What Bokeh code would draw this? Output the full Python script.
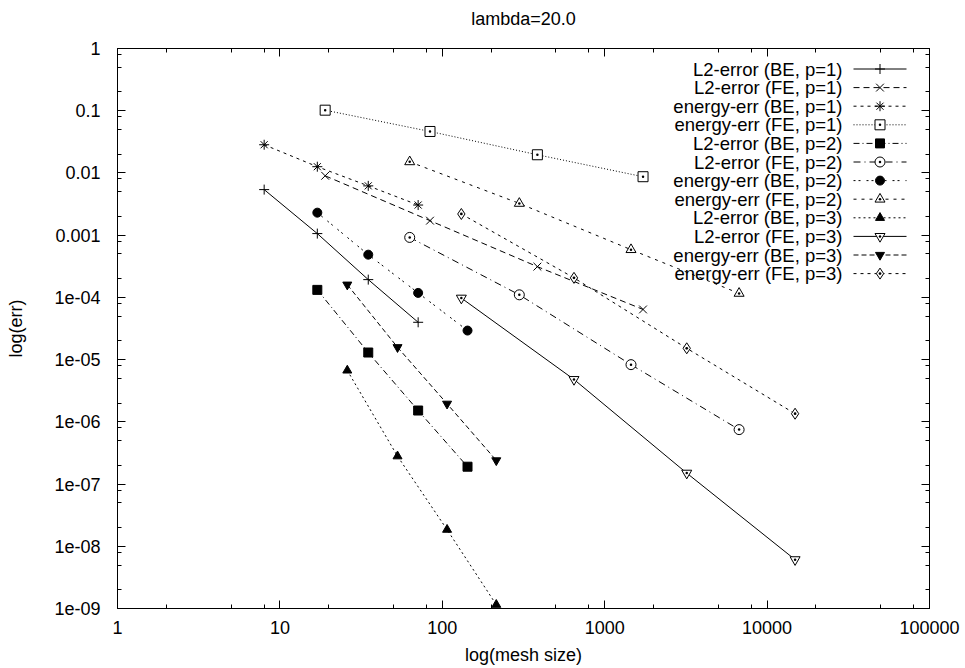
from bokeh.plotting import figure
from bokeh.models import (Range1d, LinearScale, LogAxis, FixedTicker,
                          CustomJSTickFormatter)
from bokeh.core.properties import value
from bokeh.embed import file_html
from bokeh.resources import INLINE

# ---------------- data ----------------
MESH_BE_P1 = [8, 17, 35, 71]
MESH_FE_P1 = [19, 84, 385, 1722]
MESH_BE_P2 = [17, 35, 71, 143]
MESH_FE_P2 = [63, 298, 1452, 6724]
MESH_BE_P3 = [26, 53, 107, 215]
MESH_FE_P3 = [131, 647, 3200, 14870]

L2_BE_P1 = [5.4e-3, 1.06e-3, 1.93e-4, 3.98e-5]
L2_FE_P1 = [9.0e-3, 1.71e-3, 3.12e-4, 6.4e-5]
EN_BE_P1 = [2.84e-2, 1.26e-2, 6.2e-3, 3.05e-3]
EN_FE_P1 = [0.102, 4.64e-2, 1.96e-2, 8.7e-3]
L2_BE_P2 = [1.32e-4, 1.30e-5, 1.52e-6, 1.90e-7]
L2_FE_P2 = [9.2e-4, 1.10e-4, 8.3e-6, 7.5e-7]
EN_BE_P2 = [2.30e-3, 4.86e-4, 1.18e-4, 2.93e-5]
EN_FE_P2 = [1.51e-2, 3.24e-3, 5.85e-4, 1.16e-4]
L2_BE_P3 = [6.7e-6, 2.8e-7, 1.85e-8, 1.15e-9]
L2_FE_P3 = [9.75e-5, 4.8e-6, 1.5e-7, 6.1e-9]
EN_BE_P3 = [1.6e-4, 1.58e-5, 1.95e-6, 2.4e-7]
EN_FE_P3 = [2.19e-3, 2.06e-4, 1.52e-5, 1.35e-6]

SERIES_NAMES = [
    "L2-error (BE, p=1)", "L2-error (FE, p=1)",
    "energy-err (BE, p=1)", "energy-err (FE, p=1)",
    "L2-error (BE, p=2)", "L2-error (FE, p=2)",
    "energy-err (BE, p=2)", "energy-err (FE, p=2)",
    "L2-error (BE, p=3)", "L2-error (FE, p=3)",
    "energy-err (BE, p=3)", "energy-err (FE, p=3)",
]

X_TICKS = [1, 10, 100, 1000, 10000, 100000]
X_TICK_LABELS = ["1", "10", "100", "1000", "10000", "100000"]
Y_TICKS = [1e-9, 1e-8, 1e-7, 1e-6, 1e-5, 1e-4, 1e-3, 1e-2, 1e-1, 1]
Y_TICK_LABELS = ["1e-09", "1e-08", "1e-07", "1e-06", "1e-05", "1e-04",
                 "0.001", "0.01", "0.1", "1"]
MINOR_MULT = [2, 5, 8]

TITLE = "lambda=20.0"
X_LABEL = "log(mesh size)"
Y_LABEL = "log(err)"

# ---------------- styles ----------------
FONT = "Liberation Sans"
FS = "18px"
LEG_FS = "18.5px"
# (marker, size, filled, dot, dash)
STYLES = [
    ("cross", 10, True, False, "solid"),
    ("x", 11, True, False, "6 4"),
    ("asterisk", 10, True, False, "3 4"),
    ("square_dot", 10, False, False, "1 2"),
    ("square", 9, True, False, "6 3 1 3"),
    ("circle_dot", 10, False, False, "7 4 1 4"),
    ("circle", 9, True, False, "2 3 2 6"),
    ("triangle_dot", 10, False, False, "3 5"),
    ("triangle", 9, True, False, "2 3"),
    ("inverted_triangle", 10, False, True, "solid"),
    ("inverted_triangle", 9, True, False, "5 3"),
    ("diamond_dot", 11, False, False, "3 4"),
]
XS = [MESH_BE_P1, MESH_FE_P1, MESH_BE_P1, MESH_FE_P1,
      MESH_BE_P2, MESH_FE_P2, MESH_BE_P2, MESH_FE_P2,
      MESH_BE_P3, MESH_FE_P3, MESH_BE_P3, MESH_FE_P3]
YS = [L2_BE_P1, L2_FE_P1, EN_BE_P1, EN_FE_P1,
      L2_BE_P2, L2_FE_P2, EN_BE_P2, EN_FE_P2,
      L2_BE_P3, L2_FE_P3, EN_BE_P3, EN_FE_P3]

W, H = 965, 668
ML, MR, MT, MB = 117, 36, 48, 60
FW, FH = W - ML - MR, H - MT - MB

p = figure(width=W, height=H, x_axis_type="log", y_axis_type="log",
           x_range=Range1d(1, 1e5), y_range=Range1d(1e-9, 1),
           output_backend="svg", toolbar_location=None,
           min_border_left=ML, min_border_right=MR,
           min_border_top=MT, min_border_bottom=MB,
           background_fill_color="white", border_fill_color="white")
p.xgrid.visible = False
p.ygrid.visible = False
p.outline_line_color = "black"
p.outline_line_width = 1


def make_ticker(majors, lo, hi):
    minors = [m * 10 ** k for k in range(lo, hi) for m in MINOR_MULT]
    return FixedTicker(ticks=majors, minor_ticks=minors)


xt = make_ticker(X_TICKS, 0, 5)
yt = make_ticker(Y_TICKS, -9, 0)

fmt_code = """
let best = 0, bd = Infinity;
for (let i = 0; i < tv.length; i++) {
  const d = Math.abs(Math.log10(tv[i]) - Math.log10(tick));
  if (d < bd) { bd = d; best = i; }
}
return labs[best];
"""
xfmt = CustomJSTickFormatter(args=dict(tv=X_TICKS, labs=X_TICK_LABELS), code=fmt_code)
yfmt = CustomJSTickFormatter(args=dict(tv=Y_TICKS, labs=Y_TICK_LABELS), code=fmt_code)
empty_fmt = CustomJSTickFormatter(code="return '';")


def style_axis(ax):
    ax.axis_line_color = "black"
    ax.axis_line_width = 1
    ax.major_tick_in = 8
    ax.major_tick_out = 0
    ax.minor_tick_in = 4
    ax.minor_tick_out = 0
    ax.major_tick_line_color = "black"
    ax.minor_tick_line_color = "black"
    ax.major_label_text_font = FONT
    ax.major_label_text_font_size = FS
    ax.major_label_text_color = "black"
    ax.axis_label_text_font = FONT
    ax.axis_label_text_font_size = FS
    ax.axis_label_text_font_style = "normal"
    ax.axis_label_text_color = "black"


xa = p.xaxis[0]
xa.ticker = xt
xa.formatter = xfmt
style_axis(xa)
xa.major_label_standoff = 12
xa.axis_label = X_LABEL
xa.axis_label_standoff = 8

ya = p.yaxis[0]
ya.ticker = yt
ya.formatter = yfmt
style_axis(ya)
ya.major_label_standoff = 17
ya.axis_label = Y_LABEL
ya.axis_label_standoff = 25

# mirrored top axis carries the chart title as its label
top_ax = LogAxis(ticker=xt, formatter=empty_fmt)
style_axis(top_ax)
top_ax.major_label_standoff = 0
top_ax.major_label_text_font_size = "1px"
top_ax.axis_label = TITLE
top_ax.axis_label_standoff = 20
p.add_layout(top_ax, "above")

right_ax = LogAxis(ticker=yt, formatter=empty_fmt)
style_axis(right_ax)
right_ax.major_label_standoff = 0
right_ax.major_label_text_font_size = "1px"
p.add_layout(right_ax, "right")

# legend frame in pixel units (origin top-left of the plot frame)
p.extra_x_ranges = {"leg": Range1d(0, FW)}
p.extra_y_ranges = {"leg": Range1d(FH, 0)}
p.extra_x_scales = {"leg": LinearScale()}
p.extra_y_scales = {"leg": LinearScale()}
LEG_TEXT_X = 725
LEG_LINE_X0, LEG_LINE_X1 = 736, 789
LEG_Y0, LEG_DY = 20.5, 18.6


def draw_markers(xs, ys, marker, size, filled, dot, **kw):
    if filled:
        p.scatter(xs, ys, marker=marker, size=size, line_color="black",
                  fill_color="black", line_width=1, **kw)
    else:
        p.scatter(xs, ys, marker=marker, size=size, line_color="black",
                  fill_color="white", line_width=1, **kw)
        if dot:
            p.scatter(xs, ys, marker="dot", size=size, line_color="black",
                      fill_color="black", **kw)


for i, (name, xs, ys, st) in enumerate(zip(SERIES_NAMES, XS, YS, STYLES)):
    marker, size, filled, dot, dash = st
    p.line(xs, ys, line_color="black", line_width=1, line_dash=dash)
    draw_markers(xs, ys, marker, size, filled, dot)

    ly = LEG_Y0 + i * LEG_DY
    p.text([LEG_TEXT_X], [ly], text=[name], x_range_name="leg", y_range_name="leg",
           text_align="right", text_baseline="middle",
           text_font=value(FONT), text_font_size=LEG_FS, text_color="black")
    p.line([LEG_LINE_X0, LEG_LINE_X1], [ly, ly], x_range_name="leg", y_range_name="leg",
           line_color="black", line_width=1, line_dash=dash)
    draw_markers([(LEG_LINE_X0 + LEG_LINE_X1) / 2], [ly], marker, size, filled, dot,
                 x_range_name="leg", y_range_name="leg")

open("out.html", "w").write(file_html(p, INLINE))
